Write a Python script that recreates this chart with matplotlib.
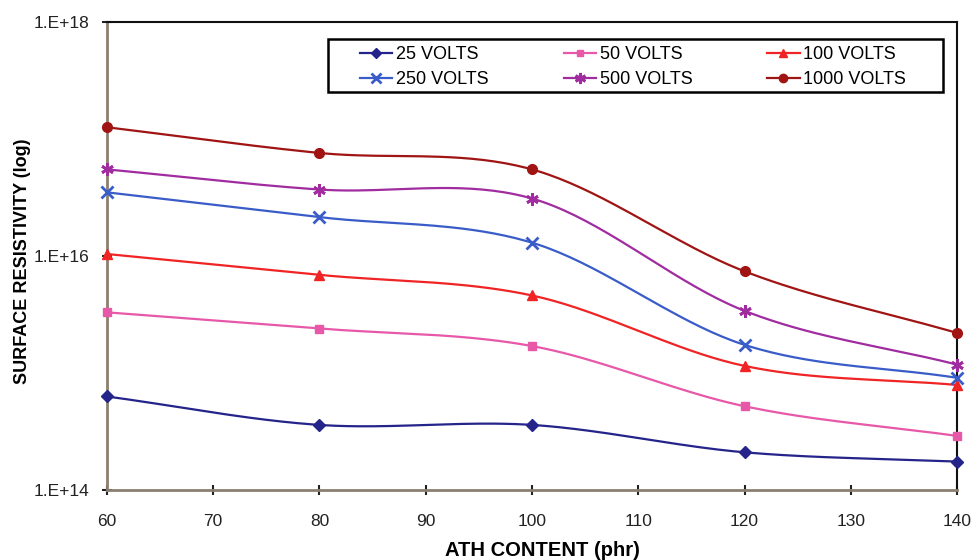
import numpy as np
import matplotlib
matplotlib.use("Agg")
import matplotlib.pyplot as plt
from matplotlib.patches import Rectangle
from matplotlib.ticker import FixedLocator, FixedFormatter, NullLocator

plt.rcParams['font.family'] = ['Liberation Sans', 'DejaVu Sans']

ath = [60, 80, 100, 120, 140]
v25 = [6.3e14, 3.6e14, 3.6e14, 2.1e14, 1.75e14]
v50 = [3.3e15, 2.4e15, 1.7e15, 5.2e14, 2.9e14]
v100 = [1.04e16, 6.9e15, 4.6e15, 1.15e15, 7.9e14]
v250 = [3.5e16, 2.15e16, 1.3e16, 1.74e15, 9.1e14]
v500 = [5.5e16, 3.7e16, 3.1e16, 3.4e15, 1.18e15]
v1000 = [1.26e17, 7.6e16, 5.5e16, 7.4e15, 2.2e15]
labels = ["25 VOLTS", "50 VOLTS", "100 VOLTS", "250 VOLTS", "500 VOLTS", "1000 VOLTS"]
series = [v25, v50, v100, v250, v500, v1000]
colors = ["#24248a", "#e858a8", "#f02424", "#3a5cc8", "#a02ca0", "#a01414"]
markers = ["D", "s", "^", "x", (6, 2, 0), "o"]
msizes = [6, 6, 7, 8, 9, 7]


def smooth(xs, ys, n=40):
    # Catmull-Rom spline through the points (log space), like Excel smoothing
    x = np.asarray(xs, float)
    y = np.log10(np.asarray(ys, float))
    px = np.concatenate([[2 * x[0] - x[1]], x, [2 * x[-1] - x[-2]]])
    py = np.concatenate([[2 * y[0] - y[1]], y, [2 * y[-1] - y[-2]]])
    ox, oy = [], []
    for i in range(1, len(px) - 2):
        t = np.linspace(0, 1, n)
        for arr, out in ((px, ox), (py, oy)):
            p0, p1, p2, p3 = arr[i - 1], arr[i], arr[i + 1], arr[i + 2]
            out.extend(0.5 * ((2 * p1) + (-p0 + p2) * t + (2 * p0 - 5 * p1 + 4 * p2 - p3) * t ** 2
                              + (-p0 + 3 * p1 - 3 * p2 + p3) * t ** 3))
    return np.array(ox), 10 ** np.array(oy)


fig = plt.figure(figsize=(9.72, 5.6), dpi=100)
ax = fig.add_axes([0.110, 0.125, 0.8746, 0.8357])

handles = []
for s, lab, c, m, ms in zip(series, labels, colors, markers, msizes):
    mew = 2 if (m == "x" or isinstance(m, tuple)) else 1
    sx, sy = smooth(ath, s)
    ax.plot(sx, sy, color=c, lw=1.6, zorder=2)
    ax.plot(ath, s, linestyle='none', marker=m, color=c, ms=ms, mew=mew, zorder=3, clip_on=False)
    h, = ax.plot([], [], color=c, lw=1.6, marker=m, ms=ms - 1, mew=mew, label=lab)
    handles.append(h)

ax.set_yscale('log')
ax.set_xlim(60, 140)
ax.set_ylim(1e14, 1e18)
ax.yaxis.set_major_locator(FixedLocator([1e14, 1e16, 1e18]))
ax.yaxis.set_major_formatter(FixedFormatter(["1.E+14", "1.E+16", "1.E+18"]))
ax.yaxis.set_minor_locator(NullLocator())
ax.set_xticks(range(60, 141, 10))
ax.tick_params(axis='both', direction='inout', length=7, width=1.5, labelsize=12.5, colors='#222222')
ax.tick_params(axis='x', pad=14)
ax.tick_params(axis='y', pad=9)

for side in ['left', 'bottom']:
    ax.spines[side].set_color('#8a8070')
    ax.spines[side].set_linewidth(2)
for side in ['top', 'right']:
    ax.spines[side].set_color('#111111')
    ax.spines[side].set_linewidth(1.5)

ax.set_xlabel("ATH CONTENT (phr)", fontsize=14.5, fontweight='bold')
ax.set_ylabel("SURFACE RESISTIVITY (log)", fontsize=13, fontweight='bold')
ax.xaxis.set_label_coords(0.512, -0.109)
ax.yaxis.set_label_coords(-0.0894, 0.489)

# legend box
ax.add_patch(Rectangle((0.26, 0.8504), 0.9835 - 0.26, 0.9637 - 0.8504, transform=ax.transAxes,
                       facecolor='white', edgecolor='black', lw=1.8, zorder=4))

order = [0, 3, 1, 4, 2, 5]
leg = ax.legend([handles[i] for i in order], [labels[i] for i in order], ncol=3,
                loc='upper left', bbox_to_anchor=(0.2976, 0.949), fontsize=13,
                frameon=False, handlelength=1.78, handletextpad=0.22,
                columnspacing=4.15, borderpad=0.0, borderaxespad=0.0, labelspacing=0.47)
leg.set_zorder(5)

fig.savefig("out.png", dpi=100)
